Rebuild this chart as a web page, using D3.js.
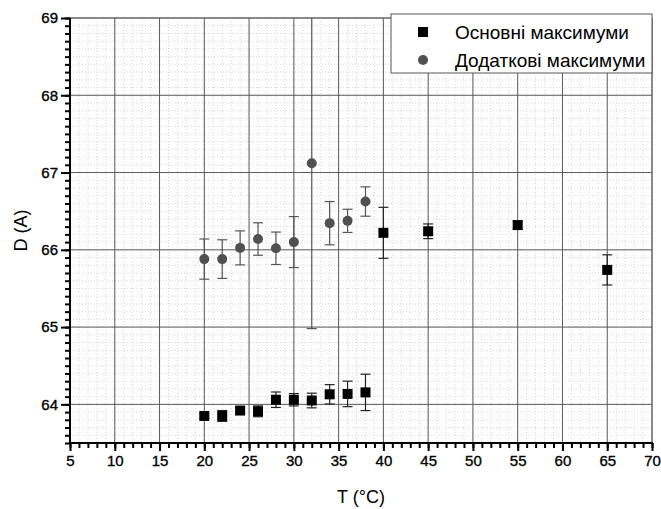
<!DOCTYPE html>
<html>
<head>
<meta charset="utf-8">
<script src="https://cdn.jsdelivr.net/npm/d3@7"></script>
<style>
    body { margin: 0; background: #fff; }
    svg { font-family: "Liberation Sans", Arial, sans-serif; }
</style>
</head>
<body>
<div id="chart"></div>
<script>
    // Основні максимуми
    const mainT = [20, 22, 24, 26, 28, 30, 32, 34, 36, 38, 40, 45, 55, 65];
    const mainD = [63.85, 63.85, 63.92, 63.91, 64.06, 64.06, 64.05, 64.13, 64.135, 64.155, 66.22, 66.24, 66.32, 65.74];
    const mainErr = [0.03, 0.07, 0.04, 0.07, 0.1, 0.08, 0.095, 0.125, 0.165, 0.235, 0.33, 0.095, 0.05, 0.195];
    // Додаткові максимуми
    const extraT = [20, 22, 24, 26, 28, 30, 32, 34, 36, 38];
    const extraD = [65.88, 65.88, 66.025, 66.14, 66.02, 66.1, 67.12, 66.345, 66.375, 66.625];
    const extraErr = [0.26, 0.25, 0.22, 0.21, 0.21, 0.33, 2.14, 0.28, 0.15, 0.19];

    const xTicks = d3.range(5, 71, 5);
    const yTicks = [64, 65, 66, 67, 68, 69];
    const legendLabels = ["Основні максимуми", "Додаткові максимуми"];

    const width = 661, height = 509;
    const margin = { left: 70, right: 9, top: 18, bottom: 66 };

    const svg = d3.select("#chart")
        .append("svg")
        .attr("width", width)
        .attr("height", height);

    const x = d3.scaleLinear()
        .domain([5, 70])
        .range([margin.left, width - margin.right]);
    const y = d3.scaleLinear()
        .domain([63.5, 69])
        .range([height - margin.bottom, margin.top]);

    const xMinor = d3.range(5, 71, 1);
    const yMinor = d3.range(635, 691, 1).map(v => v / 10);

    // minor dotted grid
    const grid = svg.append("g")
        .attr("stroke", "#d6d6d6")
        .attr("stroke-dasharray", "1,2");
    grid.selectAll("line.vx")
        .data(xMinor)
        .join("line")
        .attr("x1", d => x(d)).attr("x2", d => x(d))
        .attr("y1", margin.top).attr("y2", height - margin.bottom);
    grid.selectAll("line.hy")
        .data(yMinor)
        .join("line")
        .attr("x1", margin.left).attr("x2", width - margin.right)
        .attr("y1", d => y(d)).attr("y2", d => y(d));

    // major grid
    svg.append("g")
        .selectAll("line")
        .data(xTicks)
        .join("line")
        .attr("x1", d => x(d)).attr("x2", d => x(d))
        .attr("y1", margin.top).attr("y2", height - margin.bottom)
        .attr("stroke", "#5a5a5a");
    svg.append("g")
        .selectAll("line")
        .data(yTicks)
        .join("line")
        .attr("x1", margin.left).attr("x2", width - margin.right)
        .attr("y1", d => y(d)).attr("y2", d => y(d))
        .attr("stroke", "#5a5a5a");

    // frame top/right
    svg.append("rect")
        .attr("x", margin.left)
        .attr("y", margin.top)
        .attr("width", width - margin.left - margin.right)
        .attr("height", height - margin.top - margin.bottom)
        .attr("fill", "none")
        .attr("stroke", "#6a6a6a");

    const tickText = g => g.selectAll("text")
        .attr("font-size", 15)
        .attr("font-family", "Liberation Sans, Arial, sans-serif")
        .attr("fill", "#000")
        .attr("stroke", "#000")
        .attr("stroke-width", 0.35);

    // axes
    const xAxis = svg.append("g")
        .attr("transform", `translate(0,${height - margin.bottom})`);
    xAxis.call(d3.axisBottom(x).tickValues(xMinor).tickSize(5).tickFormat(""))
        .call(g => g.select(".domain").remove())
        .call(g => g.selectAll("line").attr("stroke-width", 2));
    xAxis.append("g")
        .call(d3.axisBottom(x).tickValues(xTicks).tickSize(8).tickPadding(4).tickFormat(d3.format("d")))
        .call(g => g.select(".domain").remove())
        .call(g => g.selectAll("line").attr("stroke-width", 2))
        .call(tickText);
    xAxis.append("line")
        .attr("x1", margin.left - 1).attr("x2", width - margin.right + 1)
        .attr("stroke", "#000").attr("stroke-width", 2);

    const yAxis = svg.append("g")
        .attr("transform", `translate(${margin.left},0)`);
    yAxis.call(d3.axisLeft(y).tickValues(yMinor).tickSize(5).tickFormat(""))
        .call(g => g.select(".domain").remove())
        .call(g => g.selectAll("line").attr("stroke-width", 2));
    yAxis.append("g")
        .call(d3.axisLeft(y).tickValues(yTicks).tickSize(9).tickPadding(3).tickFormat(d3.format("d")))
        .call(g => g.select(".domain").remove())
        .call(g => g.selectAll("line").attr("stroke-width", 2))
        .call(tickText);
    yAxis.append("line")
        .attr("y1", margin.top).attr("y2", height - margin.bottom + 1)
        .attr("stroke", "#000").attr("stroke-width", 2);

    // axis titles
    svg.append("text")
        .text("T (°C)")
        .attr("x", (x(5) + x(70)) / 2)
        .attr("y", 503)
        .attr("text-anchor", "middle")
        .attr("font-size", 18);
    svg.append("text")
        .text("D (A)")
        .attr("transform", `translate(27,${(margin.top + height - margin.bottom) / 2}) rotate(-90)`)
        .attr("text-anchor", "middle")
        .attr("font-size", 18);

    // data
    const extra = extraT.map((t, i) => ({ t, d: extraD[i], e: extraErr[i] }));
    const main = mainT.map((t, i) => ({ t, d: mainD[i], e: mainErr[i] }));

    svg.append("clipPath").attr("id", "clip")
        .append("rect")
        .attr("x", margin.left).attr("y", margin.top)
        .attr("width", width - margin.left - margin.right)
        .attr("height", height - margin.top - margin.bottom);

    function errorBars(data, color) {
        const g = svg.append("g")
            .attr("clip-path", "url(#clip)")
            .attr("stroke", color)
            .attr("stroke-width", 1.2);
        g.selectAll("line.v")
            .data(data)
            .join("line")
            .attr("x1", d => x(d.t)).attr("x2", d => x(d.t))
            .attr("y1", d => y(d.d - d.e)).attr("y2", d => y(d.d + d.e));
        g.selectAll("line.top")
            .data(data)
            .join("line")
            .attr("x1", d => x(d.t) - 5).attr("x2", d => x(d.t) + 5)
            .attr("y1", d => y(d.d + d.e)).attr("y2", d => y(d.d + d.e));
        g.selectAll("line.bot")
            .data(data)
            .join("line")
            .attr("x1", d => x(d.t) - 5).attr("x2", d => x(d.t) + 5)
            .attr("y1", d => y(d.d - d.e)).attr("y2", d => y(d.d - d.e));
    }

    errorBars(extra, "#555");
    errorBars(main, "#222");

    svg.append("g")
        .selectAll("circle")
        .data(extra)
        .join("circle")
        .attr("cx", d => x(d.t))
        .attr("cy", d => y(d.d))
        .attr("r", 5)
        .attr("fill", "#505050");

    svg.append("g")
        .selectAll("rect")
        .data(main)
        .join("rect")
        .attr("x", d => x(d.t) - 5)
        .attr("y", d => y(d.d) - 5)
        .attr("width", 10)
        .attr("height", 10)
        .attr("fill", "#000");

    // legend
    const legend = svg.append("g");
    legend.append("rect")
        .attr("x", 391)
        .attr("y", 14)
        .attr("width", 261)
        .attr("height", 59)
        .attr("fill", "#fff")
        .attr("stroke", "#555");
    legend.append("rect")
        .attr("x", 418).attr("y", 27)
        .attr("width", 10).attr("height", 10)
        .attr("fill", "#000");
    legend.append("circle")
        .attr("cx", 423).attr("cy", 60)
        .attr("r", 5)
        .attr("fill", "#505050");
    legend.selectAll("text")
        .data(legendLabels)
        .join("text")
        .text(d => d)
        .attr("x", 455)
        .attr("y", (d, i) => 39 + i * 28)
        .attr("font-size", 19);
</script>
</body>
</html>
